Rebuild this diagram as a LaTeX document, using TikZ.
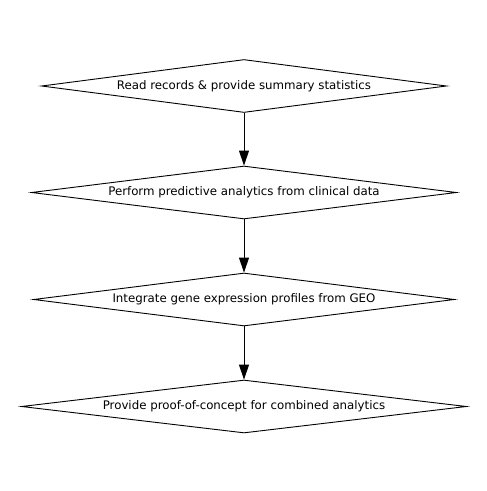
\documentclass[tikz,border=0pt]{standalone}
\usepackage{fontspec}
\setmainfont{DejaVu Sans}
\usetikzlibrary{shapes.geometric, arrows.meta}

\begin{document}
\begin{tikzpicture}[x=1pt, y=1pt, >={Triangle[length=15pt, width=10pt]},
    decision/.style={diamond, draw, line width=0.9pt, shape aspect=10, inner sep=0pt,
        minimum height=53pt, font=\fontsize{11.8}{14}\selectfont},
    flow/.style={->, line width=0.9pt}]
    \useasboundingbox (0, 0) rectangle (487, -491);

    \node[decision, minimum width=405pt] (read) at (244, -86) {Read records \& provide summary statistics};
    \node[decision, minimum width=425pt] (predict) at (244, -192.5) {Perform predictive analytics from clinical data};
    \node[decision, minimum width=421pt] (integrate) at (244, -299.5) {Integrate gene expression profiles from GEO};
    \node[decision, minimum width=445pt] (proof) at (244, -406.5) {Provide proof-of-concept for combined analytics};

    \draw[flow] (read.south) -- (predict.north);
    \draw[flow] (predict.south) -- (integrate.north);
    \draw[flow] (integrate.south) -- (proof.north);

\end{tikzpicture}
\end{document}
